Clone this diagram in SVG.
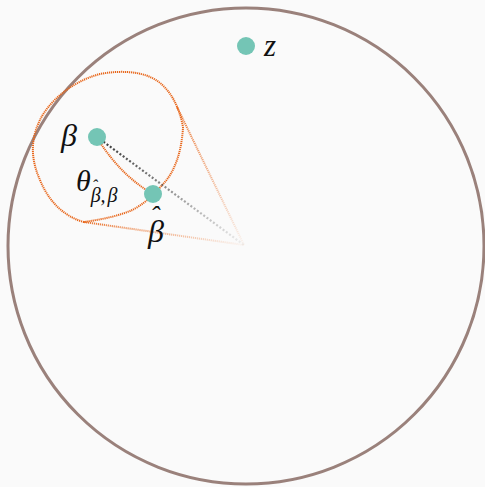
<svg xmlns="http://www.w3.org/2000/svg" width="485" height="487" viewBox="0 0 485 487">
<defs>
<linearGradient id="gTop" gradientUnits="userSpaceOnUse" x1="177" y1="107" x2="244" y2="245"><stop offset="0" stop-color="#e8661a" stop-opacity="0.9"/><stop offset="1" stop-color="#e8661a" stop-opacity="0.05"/></linearGradient>
<linearGradient id="gBot" gradientUnits="userSpaceOnUse" x1="84" y1="222" x2="244" y2="245"><stop offset="0" stop-color="#e8661a" stop-opacity="0.9"/><stop offset="1" stop-color="#e8661a" stop-opacity="0.05"/></linearGradient>
<linearGradient id="gBlk" gradientUnits="userSpaceOnUse" x1="97" y1="137" x2="244" y2="245"><stop offset="0" stop-color="#333" stop-opacity="1"/><stop offset="1" stop-color="#333" stop-opacity="0.05"/></linearGradient>
<style>
.dot{fill:#74c5b5}
.orng{fill:none;stroke:#e8661a;stroke-width:2;stroke-dasharray:1.2 0.8}
.lbl{font-family:"Liberation Serif","DejaVu Serif",serif;font-style:italic;fill:#111}
</style>
</defs>
<rect width="485" height="487" fill="#fafafa"/>
<g id="disk"><circle cx="246" cy="246" r="238" fill="none" stroke="#9a817b" stroke-width="3"/></g>
<g id="connectors">
<path class="orng" d="M183,127 C182,150 175,172 163,184 C155,194 142,206 130,211 C115,217 98,220 84,222 C68,218 50,205 40,180 C31,160 30,140 40,120 C48,103 70,82 100,74 C120,70 140,72 150,77 C165,83 178,100 183,127 Z"/>
<path class="orng" d="M99,141 C115,165 130,180 151,193"/>
<line x1="177" y1="107" x2="244" y2="245" stroke="url(#gTop)" stroke-width="2" stroke-dasharray="1.2 0.8"/>
<line x1="84" y1="222" x2="244" y2="245" stroke="url(#gBot)" stroke-width="2" stroke-dasharray="1.2 0.8"/>
<line x1="97" y1="137" x2="244" y2="245" stroke="url(#gBlk)" stroke-width="2.2" stroke-dasharray="2 2"/>
</g>
<g id="beta"><circle class="dot" cx="97" cy="137" r="9"/><text class="lbl" x="61" y="146" font-size="32">β</text></g>
<g id="betahat"><circle class="dot" cx="153" cy="194" r="9"/><text class="lbl" x="148" y="242" font-size="32">β<tspan dx="-14" dy="-17" font-size="28">ˆ</tspan></text></g>
<g id="theta"><text class="lbl" x="76" y="191" font-size="30">θ<tspan font-size="20" dy="11">β</tspan><tspan font-size="17" dx="-9" dy="-11">ˆ</tspan><tspan font-size="20" dx="3" dy="11">,</tspan><tspan font-size="20" dx="2">β</tspan></text></g>
<g id="z"><circle class="dot" cx="246" cy="46" r="9"/><text class="lbl" x="264" y="56" font-size="31">z</text></g>
</svg>
